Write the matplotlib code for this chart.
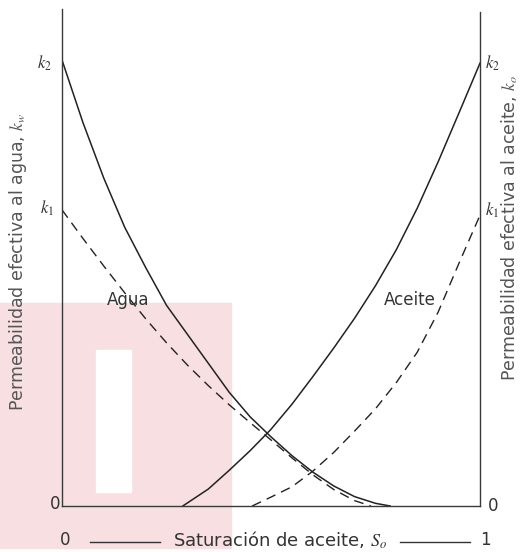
import matplotlib
matplotlib.use('Agg')
import matplotlib.pyplot as plt
from matplotlib.patches import Rectangle
from matplotlib.lines import Line2D

plt.rcParams['font.family'] = ['DejaVu Sans']
plt.rcParams['mathtext.fontset'] = 'stix'

# water relative permeability, solid (k2) and dashed (k1) curves
sw_solid_x = [0.0, 0.05, 0.10, 0.15, 0.20, 0.25, 0.30, 0.35, 0.40, 0.45, 0.50,
              0.55, 0.60, 0.65, 0.70, 0.75, 0.785]
sw_solid_y = [1.0, 0.86, 0.735, 0.625, 0.535, 0.45, 0.385, 0.32, 0.255, 0.20, 0.155,
              0.113, 0.076, 0.045, 0.021, 0.006, 0.0]
sw_dash_x = [0.0, 0.05, 0.10, 0.15, 0.20, 0.25, 0.30, 0.35, 0.40, 0.45, 0.50,
             0.55, 0.60, 0.65, 0.70, 0.739]
sw_dash_y = [0.664, 0.600, 0.538, 0.478, 0.420, 0.366, 0.316, 0.270, 0.227, 0.187, 0.148,
             0.108, 0.070, 0.037, 0.012, 0.0]

# oil relative permeability, solid (k2) and dashed (k1) curves
so_solid_x = [0.289, 0.35, 0.40, 0.45, 0.50, 0.55, 0.60, 0.65, 0.70, 0.75, 0.80,
              0.85, 0.90, 0.95, 1.0]
so_solid_y = [0.0, 0.038, 0.080, 0.124, 0.172, 0.228, 0.290, 0.354, 0.421, 0.494, 0.575,
              0.668, 0.772, 0.882, 0.993]
so_dash_x = [0.455, 0.50, 0.55, 0.60, 0.65, 0.70, 0.75, 0.80, 0.85, 0.90, 0.95, 1.0]
so_dash_y = [0.0, 0.020, 0.043, 0.078, 0.120, 0.168, 0.218, 0.277, 0.345, 0.435, 0.545, 0.652]

W, H = 530, 552
fig = plt.figure(figsize=(W / 100, H / 100), dpi=100)

# pink block and white bar on the lower left, kept under the axes
fig.patches.append(Rectangle((0, (H - 548) / H), 231 / W, 245 / H,
                             transform=fig.transFigure, color='#f8dfe1', zorder=0))
fig.patches.append(Rectangle((96 / W, (H - 492) / H), 35 / W, 142 / H,
                             transform=fig.transFigure, color='white', zorder=0.5))

ax = fig.add_axes([62 / W, (H - 506) / H, 418 / W, 497 / H])
ax.set_zorder(1)
ax.patch.set_alpha(0)
ax.set_xlim(0, 1)
ax.set_ylim(0, 497 / 446)
ax.set_xticks([])
ax.set_yticks([])
ax.spines['top'].set_visible(False)
for side in ['left', 'right', 'bottom']:
    ax.spines[side].set_color('#3a3a3a')
    ax.spines[side].set_linewidth(1.0)
ax.spines['right'].set_bounds(0, 494 / 446)

ink = '#222222'
dash = (0, (7, 4.5))
ax.plot(sw_solid_x, sw_solid_y, color=ink, lw=1.1)
ax.plot(sw_dash_x, sw_dash_y, color=ink, lw=1.0, linestyle=dash)
ax.plot(so_solid_x, so_solid_y, color=ink, lw=1.1)
ax.plot(so_dash_x, so_dash_y, color=ink, lw=1.0, linestyle=dash)

ax.text(0.157, 0.462, 'Agua', fontsize=12, color='#333333', ha='center', va='center')
ax.text(0.833, 0.462, 'Aceite', fontsize=12, color='#333333', ha='center', va='center')

# k labels at both ends
ax.text(-0.041, 0.993, '$k_2$', fontsize=12, color='#333333', ha='center', va='center')
ax.text(-0.036, 0.668, '$k_1$', fontsize=12, color='#333333', ha='center', va='center')
ax.text(1.029, 0.993, '$k_2$', fontsize=12, color='#333333', ha='center', va='center')
ax.text(1.029, 0.664, '$k_1$', fontsize=12, color='#333333', ha='center', va='center')
ax.text(-0.017, 0.005, '0', fontsize=12, color='#333333', ha='center', va='center')
ax.text(1.031, 0.0, '0', fontsize=12, color='#333333', ha='center', va='center')

ax.text(-0.105, 0.547, 'Permeabilidad efectiva al agua, $k_w$', rotation=90,
        fontsize=12.5, color='#555555', ha='center', va='center')
ax.text(1.072, 0.623, 'Permeabilidad efectiva al aceite, $k_o$', rotation=90,
        fontsize=12.5, color='#555555', ha='center', va='center')

# saturation caption with rules either side
ax.text(0.007, -0.076, '0', fontsize=12, color='#333333', ha='center', va='center')
ax.text(0.522, -0.076, 'Saturación de aceite, $S_o$', fontsize=13, color='#333333',
        ha='center', va='center')
ax.text(1.012, -0.076, '1', fontsize=12, color='#333333', ha='center', va='center')
ax.add_line(Line2D([(90 - 62) / 418, (160 - 62) / 418], [-0.08, -0.08],
                   color='#333333', lw=1.0, clip_on=False))
ax.add_line(Line2D([(400 - 62) / 418, (470 - 62) / 418], [-0.08, -0.08],
                   color='#333333', lw=1.0, clip_on=False))

plt.savefig('out.png', dpi=100)
plt.close()
